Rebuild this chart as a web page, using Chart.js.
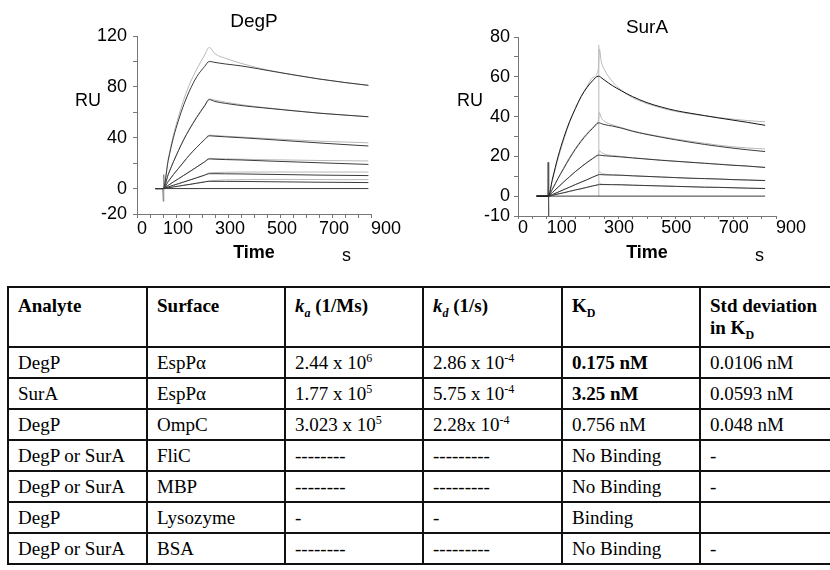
<!DOCTYPE html>
<html>
<head>
<meta charset="utf-8">
<script src="https://cdn.jsdelivr.net/npm/chart.js@4.4.0/dist/chart.umd.min.js"></script>
<style>
  html, body { margin: 0; padding: 0; background: #fff; }
  #page { position: relative; width: 830px; height: 570px; overflow: hidden; }
  canvas { position: absolute; top: 0; }
  #degp { left: 0; }
  #sura { left: 415px; }
  .lbl { position: absolute; font: 18px "Liberation Sans", Arial, sans-serif; line-height: 20px; color: #000; }
  table { position: absolute; left: 7px; top: 286px; width: 823px; border-collapse: collapse; table-layout: fixed;
          font: 19px "Liberation Serif", "Times New Roman", serif; color: #000; }
  th, td { border: 2px solid #111; padding: 0 0 0 9px; text-align: left; line-height: 22px; overflow: hidden; white-space: nowrap; }
  th { font-weight: bold; vertical-align: top; padding-top: 7px; height: 51px; }
  td { height: 29px; vertical-align: middle; }
  sup, sub { font-size: 12px; line-height: 0; }
</style>
</head>
<body>
<div id="page">
  <canvas id="degp" width="415" height="270"></canvas>
  <canvas id="sura" width="415" height="270"></canvas>
  <span class="lbl" style="left:75px;top:90px">RU</span>
  <span class="lbl" style="left:457px;top:90px">RU</span>
  <span class="lbl" style="left:342px;top:245px">s</span>
  <span class="lbl" style="left:755px;top:245px">s</span>

  <table>
    <colgroup>
      <col style="width:139px"><col style="width:138px"><col style="width:138px">
      <col style="width:139px"><col style="width:138px"><col style="width:131px">
    </colgroup>
    <tr>
      <th>Analyte</th>
      <th>Surface</th>
      <th><i>k<sub>a</sub></i> (1/Ms)</th>
      <th><i>k<sub>d</sub></i> (1/s)</th>
      <th>K<sub>D</sub></th>
      <th>Std deviation<br>in K<sub>D</sub></th>
    </tr>
    <tr><td>DegP</td><td>EspPα</td><td>2.44 x 10<sup>6</sup></td><td>2.86 x 10<sup>-4</sup></td><td><b>0.175 nM</b></td><td>0.0106 nM</td></tr>
    <tr><td>SurA</td><td>EspPα</td><td>1.77 x 10<sup>5</sup></td><td>5.75 x 10<sup>-4</sup></td><td><b>3.25 nM</b></td><td>0.0593 nM</td></tr>
    <tr><td>DegP</td><td>OmpC</td><td>3.023 x 10<sup>5</sup></td><td>2.28x 10<sup>-4</sup></td><td>0.756 nM</td><td>0.048 nM</td></tr>
    <tr><td>DegP or SurA</td><td>FliC</td><td>--------</td><td>---------</td><td>No Binding</td><td>-</td></tr>
    <tr><td>DegP or SurA</td><td>MBP</td><td>--------</td><td>---------</td><td>No Binding</td><td>-</td></tr>
    <tr><td>DegP</td><td>Lysozyme</td><td>-</td><td>-</td><td>Binding</td><td></td></tr>
    <tr><td>DegP or SurA</td><td>BSA</td><td>--------</td><td>---------</td><td>No Binding</td><td>-</td></tr>
  </table>
</div>

<script>
// tick labels
const timeLabels = [0, 100, 300, 500, 700, 900];
const degpYLabels = [-20, 0, 40, 80, 120];
const surYLabels = [-10, 0, 20, 40, 60, 80];

// DegP sensorgrams, RU (time in s)
const degpTime = [70, 101, 120, 140, 160, 180, 200, 230, 260, 278, 300, 340, 400, 500, 600, 700, 800, 890];
const degpFits = [
  [0, 0, 22, 40, 54, 66, 76, 88, 96, 100, 99.2, 98, 96.5, 93, 89.5, 86.2, 83.4, 81.2],
  [0, 0, 11, 21, 30, 38.5, 46, 56, 65, 70, 68.5, 67, 65.3, 63.2, 61.2, 59.3, 57.8, 56.5],
  [0, 0, 5.5, 11, 16, 21, 26, 32.5, 38.5, 41.5, 41.2, 40.7, 40, 38.7, 37.3, 35.9, 34.6, 33.5],
  [0, 0, 2.5, 5.2, 7.8, 10.4, 13, 17, 21, 23.3, 23.1, 22.8, 22.5, 21.7, 21, 20.3, 19.6, 19],
  [0, 0, 1.3, 2.6, 3.9, 5.2, 6.5, 8.5, 10.5, 11.7, 11.7, 11.6, 11.5, 11.2, 10.9, 10.6, 10.4, 10.2],
  [0, 0, 0.6, 1.3, 1.9, 2.6, 3.2, 4.2, 5.2, 5.7, 5.7, 5.65, 5.6, 5.4, 5.2, 5.0, 4.85, 4.7]
];
const degpMeas = [
  [0, 0, 23, 42, 57, 70, 81, 94, 105, 111, 106, 102.5, 98.5, 93.3, 89.5, 86.2, 83.4, 81.2],
  [0, 0, 11, 21, 30.5, 39, 46.5, 56.5, 65.5, 70.5, 69.5, 68, 66, 63.5, 61.4, 59.4, 57.8, 56.5],
  [0, 0, 5.5, 11, 16, 21, 26, 32.5, 38.8, 42, 41.8, 41.2, 40.5, 39.4, 38.3, 37.3, 36.6, 36],
  [0, 0, 2.5, 5.2, 7.8, 10.4, 13, 17, 21.2, 23.8, 23.6, 23.4, 23.1, 22.7, 22.4, 22.1, 21.9, 21.7],
  [0, 0, 1.3, 2.6, 3.9, 5.2, 6.5, 8.6, 10.8, 12.3, 12.6, 12.8, 13, 13, 13, 13, 13, 13],
  [0, 0, 0.6, 1.3, 1.9, 2.6, 3.2, 4.3, 5.4, 6, 6.4, 6.8, 7, 7.2, 7.2, 7.1, 7, 7]
];
const degpBaseTime = [70, 890];
const degpBase = [0, 0];
const degpSpikeTime = [99, 101, 103, 105];
const degpSpike = [0, -10, 11, 0];

// SurA sensorgrams
const surTime = [65, 106, 120, 140, 160, 180, 200, 220, 240, 260, 280, 284, 290, 300, 330, 360, 400, 450, 500, 550, 600, 650, 700, 750, 800, 862];
const surFits = [
  [0, 0, 8.5, 20, 29.5, 37.5, 44, 50, 54.5, 58, 60.3, 60.2, 59.6, 58.5, 55.5, 53, 50, 47, 44.8, 43, 41.7, 40.5, 39.3, 38.2, 37.1, 35.6],
  [0, 0, 3.5, 9, 14, 19, 23.5, 27.5, 31, 34, 36.8, 36.8, 36.5, 36, 35.2, 34.2, 32.6, 31, 29.6, 28.3, 27.1, 26, 25, 24.1, 23.3, 22.4],
  [0, 0, 1.8, 4.5, 7.2, 9.8, 12.3, 14.6, 16.8, 18.8, 20.6, 20.6, 20.5, 20.3, 20, 19.7, 19.2, 18.6, 18, 17.5, 17, 16.5, 16, 15.5, 15.1, 14.4],
  [0, 0, 0.8, 2, 3.3, 4.5, 5.8, 7, 8.2, 9.5, 10.7, 10.8, 10.8, 10.7, 10.6, 10.5, 10.2, 9.9, 9.6, 9.3, 9.0, 8.8, 8.6, 8.3, 8.1, 7.8],
  [0, 0, 0.4, 1.1, 1.7, 2.4, 3.1, 3.7, 4.4, 5.1, 5.7, 5.8, 5.8, 5.8, 5.75, 5.7, 5.5, 5.3, 5.1, 4.9, 4.7, 4.5, 4.4, 4.2, 4.0, 3.8]
];
const surMeas = [
  [0, 0, 8, 19, 28.5, 37, 44, 50, 55, 59.5, 63.5, 74, 68, 64, 57.5, 53.3, 49.5, 46.5, 44.3, 42.6, 41.4, 40.4, 39.5, 38.7, 38, 37.3],
  [0, 0, 3.5, 9, 14.5, 19.5, 24, 28, 31.5, 34.5, 37.5, 42, 39.5, 37.8, 35.8, 34.5, 32.8, 31.2, 29.9, 28.7, 27.6, 26.6, 25.6, 24.8, 24.2, 23.7],
  [0, 0, 1.8, 4.5, 7.2, 9.8, 12.3, 14.7, 17, 19, 20.8, 23, 22, 21.2, 20.4, 19.9, 19.3, 18.7, 18.1, 17.6, 17.1, 16.6, 16.1, 15.6, 15.1, 14.5],
  [0, 0, 0.8, 2, 3.3, 4.5, 5.8, 7, 8.2, 9.5, 11, 12.3, 11.6, 11.1, 10.7, 10.5, 10.2, 9.9, 9.6, 9.3, 9.0, 8.8, 8.6, 8.3, 8.1, 7.9],
  [0, 0, 0.4, 1.1, 1.7, 2.4, 3.1, 3.7, 4.4, 5.1, 5.9, 6.5, 6.1, 5.9, 5.8, 5.7, 5.5, 5.3, 5.1, 4.9, 4.7, 4.5, 4.4, 4.2, 4.0, 3.9]
];
const surBaseTime = [65, 862];
const surBase = [0, 0];
const surSpikeTime = [104, 105, 106, 108];
const surSpike = [0, 17, -10, 0];
const surStopTime = [282, 282];
const surStop = [0, 76];

const FONT = '"Liberation Sans", Arial, sans-serif';
const AXIS = '#777';
const GRAY = '#b8b8b8';
const DARK = '#3a3a3a';
Chart.defaults.font.family = FONT;

function serie(times, values, color, smooth) {
  return {
    data: times.map((t, i) => ({ x: t, y: values[i] })),
    borderColor: color,
    borderWidth: 1,
    pointRadius: 0,
    fill: false,
    cubicInterpolationMode: smooth ? 'monotone' : 'default',
    tension: 0
  };
}

function sensorgram(id, c) {
  // first datasets end up on top, so fits go first
  const datasets = [];
  c.fits.forEach((v, i) => datasets.push(serie(c.time, v, i === 0 ? c.topColor : DARK, true)));
  datasets.push(serie(c.baseTime, c.base, DARK, false));
  c.extra.forEach(e => datasets.push(serie(e[0], e[1], e[2], false)));
  c.meas.forEach(v => datasets.push(serie(c.time, v, GRAY, true)));

  return new Chart(document.getElementById(id), {
    type: 'line',
    data: { datasets },
    options: {
      responsive: false,
      animation: false,
      events: [],
      layout: { padding: { left: 0, right: c.padRight, top: 0, bottom: 0 } },
      plugins: {
        legend: { display: false },
        tooltip: { enabled: false },
        title: {
          display: true, text: c.title, color: '#000', fullSize: false,
          font: { size: 19, weight: 'normal', lineHeight: 1 },
          padding: c.titlePad
        }
      },
      scales: {
        x: {
          type: 'linear', min: 0, max: 900,
          afterFit: s => { s.height = c.xHeight; },
          border: { color: AXIS, width: 1 },
          grid: { drawOnChartArea: false, tickLength: c.xTick, color: AXIS },
          ticks: {
            stepSize: 50, autoSkip: false, maxRotation: 0, align: 'start',
            padding: c.xPad, color: '#000', font: { size: 18, lineHeight: 1 },
            callback: v => timeLabels.includes(v) ? String(v) : ''
          },
          title: {
            display: true, text: 'Time', color: '#000',
            font: { size: 18, weight: 'bold' }, padding: { top: 0, bottom: 6 }
          }
        },
        y: {
          type: 'linear', min: c.yMin, max: c.yMax,
          afterFit: s => { s.width = c.yWidth; },
          border: { color: AXIS, width: 1 },
          grid: { drawOnChartArea: false, tickLength: 4, color: AXIS },
          ticks: {
            stepSize: c.yStep, autoSkip: false, padding: c.yPad,
            color: '#000', font: { size: 18, lineHeight: 1 },
            callback: v => c.yLabels.includes(v) ? String(v) : ''
          }
        }
      }
    }
  });
}

sensorgram('degp', {
  title: 'DegP', titlePad: { top: 12, bottom: 5 },
  time: degpTime, fits: degpFits, meas: degpMeas, topColor: DARK,
  baseTime: degpBaseTime, base: degpBase,
  extra: [[degpSpikeTime, degpSpike, '#888']],
  yMin: -20, yMax: 120, yStep: 20, yLabels: degpYLabels,
  yWidth: 137, yPad: 6, padRight: 44,
  xHeight: 56, xTick: 4, xPad: 2
});

sensorgram('sura', {
  title: 'SurA', titlePad: { top: 18, bottom: 0 },
  time: surTime, fits: surFits, meas: surMeas, topColor: '#151515',
  baseTime: surBaseTime, base: surBase,
  extra: [[surSpikeTime, surSpike, '#555'], [surStopTime, surStop, GRAY]],
  yMin: -10, yMax: 80, yStep: 10, yLabels: surYLabels,
  yWidth: 103, yPad: 4, padRight: 54,
  xHeight: 54, xTick: 3, xPad: 0
});
</script>
</body>
</html>
